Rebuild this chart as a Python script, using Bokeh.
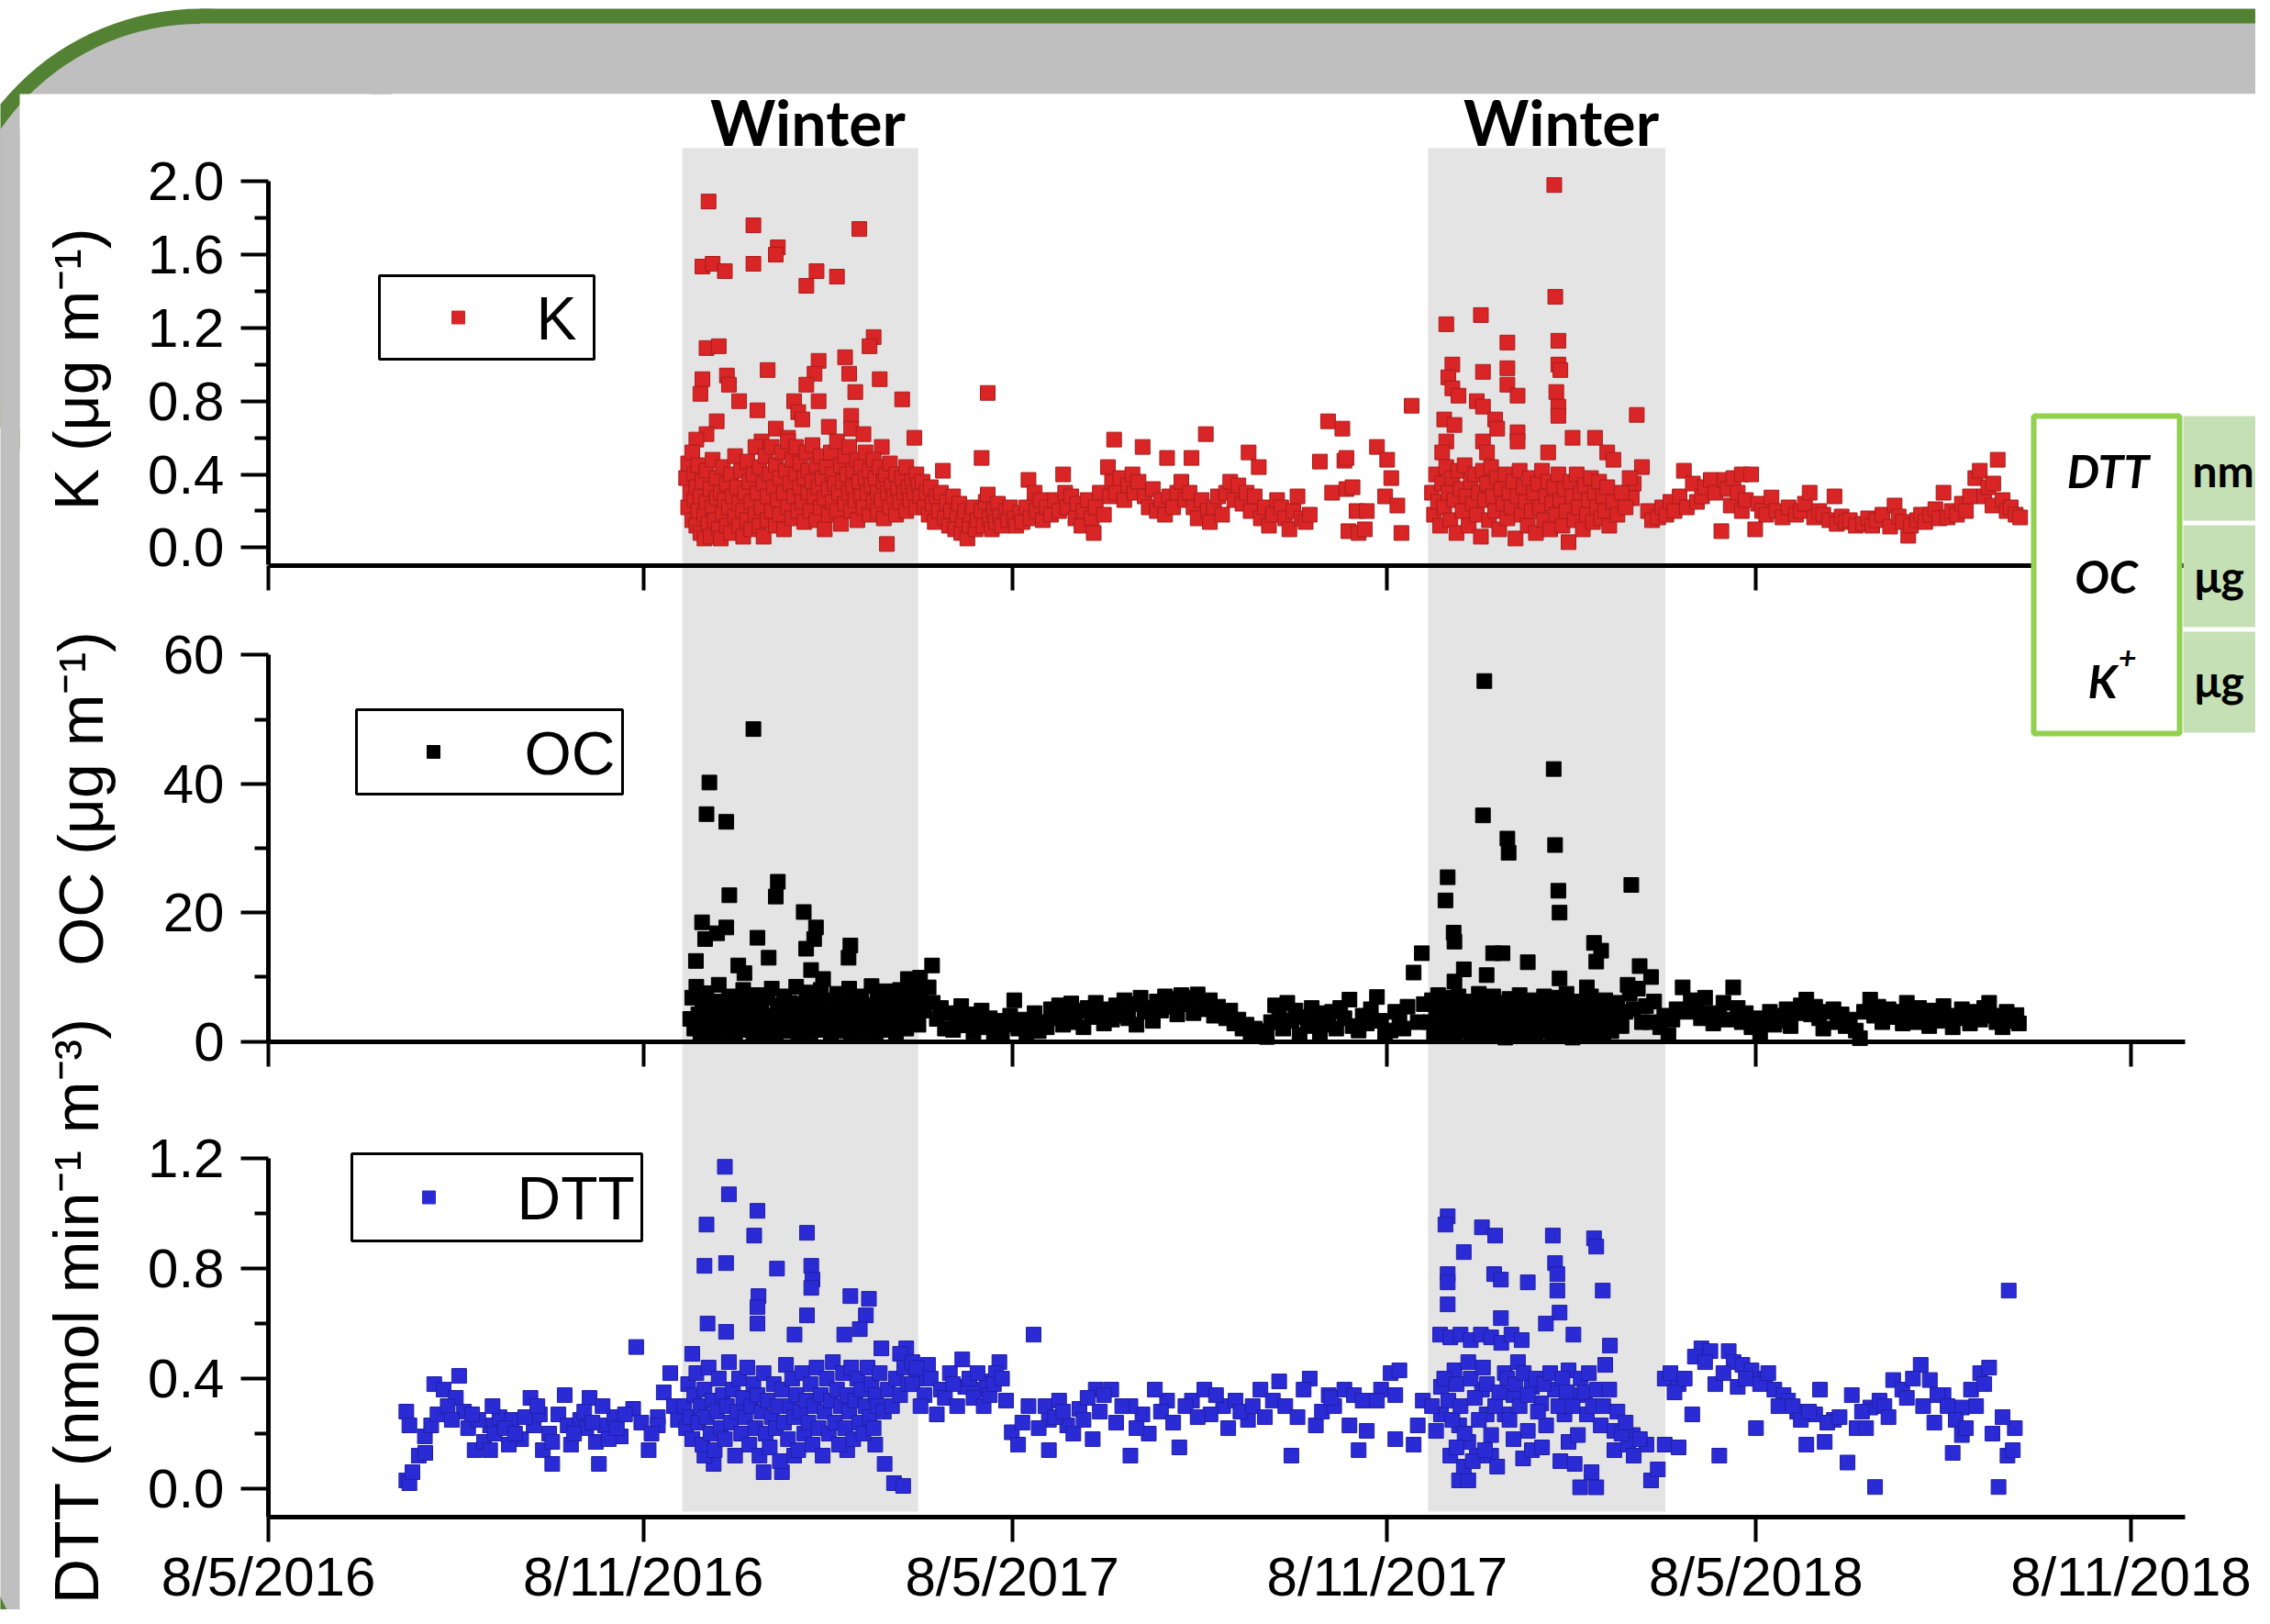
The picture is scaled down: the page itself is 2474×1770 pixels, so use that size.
import math
from bokeh.plotting import figure
from bokeh.models import Range1d, LinearAxis, FixedTicker, PrintfTickFormatter
from bokeh.core.properties import value
from bokeh.embed import file_html
from bokeh.resources import INLINE

# ---------------- data ----------------
# sample day = days since 8 May 2016 (8/5/2016, day/month/year)
START_DATE = "2016-05-08"

K_DATA = [
    # winter 2016/17 high values
    (216, 1.89), (238, 1.76), (290, 1.74), (250, 1.64), (249, 1.60), (213, 1.535), (218, 1.55), (224, 1.51),
    (238, 1.55), (269, 1.51), (264, 1.43), (279, 1.48), (297, 1.15), (295, 1.10), (215, 1.09), (221, 1.10),
    (213, 0.92), (212, 0.84), (225, 0.94), (226, 0.89), (245, 0.97), (270, 1.02), (268, 0.95), (264, 0.89),
    (283, 1.04), (285, 0.95), (288, 0.85), (300, 0.92), (311, 0.81), (231, 0.80), (240, 0.75), (249, 0.65),
    (258, 0.80), (260, 0.74), (270, 0.80), (286, 0.72), (286, 0.65), (317, 0.60), (220, 0.69), (215, 0.62),
    (210, 0.59), (262, 0.70), (275, 0.66), (292, 0.62), (301, 0.55), (255, 0.60), (242, 0.58), (303.5, 0.02),
    # winter 2016/17 bulk
    (205, 0.38), (206, 0.22), (206, 0.46), (207, 0.30), (208, 0.15), (208, 0.52), (209, 0.26), (209, 0.40),
    (210, 0.12), (210, 0.33), (211, 0.20), (211, 0.45), (212, 0.28), (212, 0.08), (213, 0.36), (214, 0.18),
    (214, 0.05), (215, 0.42), (215, 0.25), (216, 0.13), (217, 0.32), (217, 0.06), (218, 0.22), (218, 0.48),
    (219, 0.15), (220, 0.38), (220, 0.27), (221, 0.10), (222, 0.30), (222, 0.05), (223, 0.44), (223, 0.19),
    (224, 0.26), (225, 0.12), (225, 0.35), (226, 0.22), (227, 0.40), (227, 0.08), (228, 0.28), (229, 0.17),
    (229, 0.50), (230, 0.33), (231, 0.12), (231, 0.24), (232, 0.42), (233, 0.20), (233, 0.06), (234, 0.30),
    (235, 0.15), (235, 0.47), (236, 0.36), (237, 0.25), (237, 0.10), (238, 0.40), (239, 0.18), (239, 0.55),
    (240, 0.30), (241, 0.12), (241, 0.44), (242, 0.22), (243, 0.35), (243, 0.06), (244, 0.50), (245, 0.28),
    (245, 0.15), (246, 0.40), (247, 0.20), (247, 0.55), (248, 0.33), (249, 0.12), (249, 0.45), (250, 0.26),
    (251, 0.38), (251, 0.18), (252, 0.52), (253, 0.30), (253, 0.10), (254, 0.42), (255, 0.22), (255, 0.58),
    (256, 0.35), (257, 0.16), (257, 0.48), (258, 0.28), (259, 0.40), (259, 0.55), (260, 0.20), (261, 0.33),
    (261, 0.46), (262, 0.25), (263, 0.38), (263, 0.14), (264, 0.52), (265, 0.30), (265, 0.42), (266, 0.20),
    (267, 0.36), (267, 0.56), (268, 0.28), (269, 0.45), (269, 0.15), (270, 0.33), (271, 0.50), (271, 0.22),
    (272, 0.38), (273, 0.10), (273, 0.27), (274, 0.44), (275, 0.32), (275, 0.18), (276, 0.52), (277, 0.25),
    (277, 0.40), (278, 0.35), (279, 0.58), (279, 0.20), (280, 0.30), (281, 0.45), (281, 0.13), (282, 0.36),
    (283, 0.24), (283, 0.50), (284, 0.40), (285, 0.30), (285, 0.55), (286, 0.20), (287, 0.42), (287, 0.33),
    (288, 0.26), (289, 0.48), (289, 0.15), (290, 0.36), (291, 0.28), (291, 0.44), (292, 0.22), (293, 0.38),
    (293, 0.52), (294, 0.30), (295, 0.18), (295, 0.42), (296, 0.34), (297, 0.25), (297, 0.48), (298, 0.38),
    (299, 0.20), (299, 0.30), (300, 0.44), (301, 0.26), (302, 0.36), (302, 0.16), (303, 0.40), (304, 0.30),
    (305, 0.22), (305, 0.46), (306, 0.34), (307, 0.28), (308, 0.40), (308, 0.18), (309, 0.32), (310, 0.25),
    (311, 0.38), (312, 0.30), (313, 0.20), (313, 0.44), (314, 0.33), (315, 0.26), (316, 0.36), (317, 0.30),
    (318, 0.22), (318, 0.40), (319, 0.34),
    # 2017 warm season
    (320, 0.28), (321, 0.36), (322, 0.22), (323, 0.30), (324, 0.18), (325, 0.33), (326, 0.24), (327, 0.14),
    (328, 0.28), (329, 0.20), (330, 0.30), (331, 0.42), (332, 0.16), (333, 0.25), (334, 0.12), (335, 0.20),
    (336, 0.28), (337, 0.10), (338, 0.18), (339, 0.24), (340, 0.08), (341, 0.15), (342, 0.20), (343, 0.05),
    (344, 0.12), (345, 0.18), (346, 0.22), (347, 0.10), (348, 0.15), (350, 0.49), (350, 0.20), (351, 0.12),
    (352, 0.25), (353, 0.29), (353, 0.845), (354, 0.16), (355, 0.10), (356, 0.20), (357, 0.14), (358, 0.24),
    (359, 0.17), (360, 0.12), (362, 0.20), (363, 0.15), (364, 0.22), (366, 0.16), (367, 0.12), (369, 0.19),
    (370, 0.14), (372, 0.22), (373, 0.37), (374, 0.16), (376, 0.30), (377, 0.20), (379, 0.26), (380, 0.15),
    (382, 0.22), (384, 0.18), (386, 0.26), (388, 0.20), (390, 0.40), (391, 0.30), (392, 0.22), (394, 0.28),
    (396, 0.16), (397, 0.24), (399, 0.12), (400, 0.20), (402, 0.26), (404, 0.16), (405, 0.08), (406, 0.22),
    (408, 0.30), (410, 0.18), (412, 0.44), (413, 0.28), (414, 0.36), (415, 0.59), (416, 0.30), (418, 0.38),
    (420, 0.26), (422, 0.34), (424, 0.40), (425, 0.30), (427, 0.36), (429, 0.55), (430, 0.28), (432, 0.22),
    (434, 0.32), (436, 0.20), (438, 0.26), (440, 0.18), (441, 0.49), (442, 0.28), (444, 0.22), (446, 0.30),
    (448, 0.36), (450, 0.26), (452, 0.30), (453, 0.49), (454, 0.22), (456, 0.16), (458, 0.26), (460, 0.62),
    (461, 0.20), (462, 0.14), (464, 0.22), (466, 0.28), (468, 0.18), (470, 0.30), (472, 0.36), (474, 0.26),
    (476, 0.34), (478, 0.24), (480, 0.30), (481, 0.52), (482, 0.20), (484, 0.28), (486, 0.44), (487, 0.16),
    (489, 0.22), (491, 0.12), (493, 0.18), (495, 0.26), (497, 0.22), (499, 0.16), (501, 0.10), (503, 0.20),
    (505, 0.28), (507, 0.16), (509, 0.14), (511, 0.18), (516, 0.47), (520, 0.69), (522, 0.30), (527, 0.65),
    (528, 0.475), (529, 0.49), (529, 0.32), (530, 0.09), (532, 0.33), (534, 0.20), (535, 0.08), (538, 0.10),
    (539, 0.20), (544, 0.55), (548, 0.28), (549, 0.48), (551, 0.38), (554, 0.23), (556, 0.08), (561, 0.775),
    # winter 2017/18 high values
    (631, 1.98), (631.5, 1.37), (578, 1.22), (595, 1.27), (608, 1.12), (581, 1.00), (596, 0.96), (608, 0.98),
    (608, 0.89), (613, 0.83), (633, 1.13), (633, 1.00), (634, 0.97), (632, 0.85), (633, 0.77), (633, 0.72),
    (579, 0.93), (581, 0.87), (584, 0.83), (593, 0.80), (596, 0.77), (577, 0.70), (582, 0.67), (602, 0.70),
    (603, 0.65), (613, 0.63), (613, 0.58), (671.5, 0.725), (578, 0.58), (576, 0.52), (596, 0.58), (598, 0.52),
    (628, 0.52), (640, 0.60), (651, 0.60), (657, 0.52), (660, 0.48), (674, 0.44), (670, 0.35), (669, 0.27),
    # winter 2017/18 bulk
    (571, 0.30), (572, 0.18), (573, 0.40), (574, 0.25), (575, 0.12), (576, 0.35), (577, 0.22), (578, 0.44),
    (579, 0.30), (580, 0.15), (581, 0.38), (582, 0.26), (583, 0.08), (584, 0.42), (585, 0.32), (586, 0.20),
    (587, 0.45), (588, 0.28), (589, 0.12), (590, 0.36), (591, 0.24), (592, 0.40), (593, 0.18), (594, 0.30),
    (595, 0.06), (596, 0.42), (597, 0.26), (598, 0.35), (599, 0.15), (600, 0.44), (601, 0.28), (602, 0.20),
    (603, 0.38), (604, 0.10), (605, 0.32), (606, 0.24), (607, 0.40), (608, 0.16), (609, 0.30), (610, 0.22),
    (611, 0.36), (612, 0.05), (613, 0.28), (614, 0.42), (615, 0.18), (616, 0.33), (617, 0.25), (618, 0.12),
    (619, 0.38), (620, 0.20), (621, 0.30), (622, 0.08), (623, 0.35), (624, 0.22), (625, 0.42), (626, 0.15),
    (627, 0.28), (628, 0.36), (629, 0.10), (630, 0.24), (631, 0.33), (632, 0.18), (633, 0.40), (634, 0.26),
    (635, 0.12), (636, 0.32), (637, 0.20), (638, 0.03), (639, 0.36), (640, 0.28), (641, 0.15), (642, 0.40),
    (643, 0.22), (644, 0.30), (645, 0.10), (646, 0.34), (647, 0.18), (648, 0.26), (649, 0.38), (650, 0.14),
    (651, 0.30), (652, 0.22), (653, 0.36), (654, 0.16), (655, 0.28), (656, 0.20), (657, 0.33), (658, 0.12),
    (660, 0.25), (662, 0.18), (664, 0.30), (666, 0.22), (668, 0.38),
    # 2018 warm season
    (677, 0.20), (679, 0.15), (682, 0.165), (684, 0.22), (686, 0.18), (688, 0.25), (690, 0.20), (692.5, 0.28),
    (694.6, 0.42), (696, 0.22), (699, 0.35), (701, 0.25), (703.5, 0.28), (705, 0.33), (707.8, 0.37), (710, 0.30),
    (713, 0.09), (714.5, 0.37), (716, 0.32), (717.6, 0.23), (718.9, 0.38), (721, 0.30), (723, 0.40), (723, 0.20),
    (725, 0.26), (727.6, 0.40), (729.6, 0.10), (731, 0.24), (733, 0.20), (735, 0.18), (737.6, 0.274), (740, 0.20),
    (743, 0.165), (746, 0.22), (749.6, 0.18), (752, 0.20), (754, 0.24), (756.3, 0.30), (758.5, 0.165), (761, 0.20),
    (763, 0.18), (766, 0.15), (768.5, 0.28), (769.6, 0.13), (772, 0.17), (774, 0.14), (776, 0.15), (779, 0.12),
    (782.6, 0.13), (785, 0.16), (787, 0.12), (789, 0.15), (792, 0.18), (795.8, 0.115), (798, 0.23), (800, 0.17),
    (802, 0.14), (804.7, 0.065), (806, 0.12), (809, 0.15), (811, 0.18), (813, 0.14), (815.6, 0.18), (818, 0.21),
    (820, 0.16), (822, 0.30), (824, 0.165), (826, 0.20), (828.6, 0.18), (831, 0.24), (833, 0.20), (835, 0.28),
    (837.6, 0.38), (839.8, 0.42), (842, 0.28), (844, 0.33), (846.4, 0.35), (846, 0.23), (848.6, 0.48), (851, 0.26),
    (853, 0.20), (855, 0.22), (857.4, 0.18), (859.6, 0.165),
]

OC_DATA = [
    # winter 2016/17 high values
    (238, 48.5), (216.4, 40.2), (215, 35.3), (224.7, 34.1), (226.2, 22.7), (250, 24.8), (249, 22.5), (212.8, 18.5),
    (224.7, 17.7), (214.3, 15.9), (220.2, 16.8), (240, 16.1), (245.5, 13.0), (262.7, 20.1), (268.7, 17.7),
    (267.8, 15.9), (263.9, 14.4), (285.6, 14.9), (284.7, 13.0), (209.8, 12.5), (230.6, 11.8), (233.6, 10.6),
    (266.3, 11.1), (272.2, 9.7), (325.7, 11.8), (319.8, 9.9), (313.8, 9.7),
    # winter 2016/17 bulk
    (207, 3.5), (208, 6.8), (209, 2.0), (210, 8.5), (211, 4.2), (212, 1.2), (213, 5.8), (214, 3.0), (215, 7.5),
    (216, 2.2), (217, 4.8), (218, 1.0), (219, 6.2), (220, 3.4), (221, 8.8), (222, 2.0), (223, 5.0), (224, 1.5),
    (225, 3.8), (226, 7.0), (227, 2.5), (228, 5.5), (229, 1.2), (230, 4.0), (231, 6.5), (232, 2.8), (233, 8.0),
    (234, 1.8), (235, 4.5), (236, 3.0), (237, 6.0), (238, 1.0), (239, 3.6), (240, 7.2), (241, 2.2), (242, 5.2),
    (243, 1.4), (244, 4.0), (245, 6.8), (246, 2.6), (247, 8.2), (248, 3.2), (249, 1.2), (250, 5.6), (251, 2.4),
    (252, 4.4), (253, 7.0), (254, 1.6), (255, 3.8), (256, 6.0), (257, 2.0), (258, 4.8), (259, 8.5), (260, 1.0),
    (261, 3.2), (262, 5.8), (263, 2.4), (264, 7.6), (265, 4.2), (266, 1.5), (267, 6.2), (268, 3.0), (269, 5.0),
    (270, 1.8), (271, 8.0), (272, 3.6), (273, 2.2), (274, 6.4), (275, 4.0), (276, 1.2), (277, 5.4), (278, 2.8),
    (279, 7.4), (280, 3.4), (281, 1.6), (282, 5.8), (283, 2.6), (284, 4.6), (285, 8.2), (286, 1.0), (287, 3.8),
    (288, 6.0), (289, 2.2), (290, 4.8), (291, 7.0), (292, 1.5), (293, 3.4), (294, 5.6), (295, 2.0), (296, 8.6),
    (297, 4.2), (298, 1.2), (299, 6.4), (300, 3.0), (301, 5.0), (302, 1.8), (303, 7.8), (304, 3.6), (305, 2.4),
    (306, 6.6), (307, 4.4), (308, 1.4), (309, 5.8), (310, 8.0), (311, 3.2), (312, 6.2), (313, 2.0), (314, 4.6),
    (315, 7.4), (316, 3.0), (317, 8.8), (318, 5.2), (319, 2.6), (320, 7.0), (322, 4.8), (324, 8.4),
    # 2017 warm season
    (326, 6.0), (328, 3.5), (330, 5.2), (332, 2.0), (334, 4.4), (336, 1.8), (338, 3.8), (340, 5.5), (342, 2.5),
    (344, 4.2), (346, 1.5), (348, 3.0), (350, 4.8), (352, 2.2), (354, 3.6), (356, 1.2), (358, 3.2), (360, 0.8),
    (362, 2.6), (364, 4.0), (366, 6.4), (368, 2.0), (370, 3.4), (372, 1.0), (374, 2.8), (376, 4.4), (378, 1.6),
    (380, 3.0), (382, 2.2), (384, 5.0), (386, 3.6), (388, 5.6), (390, 2.6), (392, 4.2), (394, 5.9), (396, 3.0),
    (398, 4.8), (400, 2.2), (402, 5.2), (404, 3.8), (406, 6.0), (408, 4.4), (410, 2.8), (412, 5.0), (414, 3.4),
    (416, 5.6), (418, 4.0), (420, 6.4), (422, 3.6), (424, 5.8), (426, 2.6), (428, 6.8), (430, 4.6), (432, 5.2),
    (434, 3.2), (436, 6.2), (438, 4.8), (440, 7.0), (442, 5.4), (444, 6.6), (446, 4.2), (448, 7.2), (450, 5.8),
    (452, 6.8), (454, 4.4), (456, 7.3), (458, 6.0), (460, 5.0), (462, 6.4), (464, 4.0), (466, 5.4), (468, 4.4),
    (470, 3.6), (472, 4.8), (474, 2.8), (476, 3.4), (478, 2.0), (480, 2.6), (482, 1.4), (484, 2.0), (486, 0.8),
    (488, 1.6), (490, 0.7), (492, 3.0), (494, 5.6), (496, 4.2), (498, 2.0), (500, 6.0), (502, 3.2), (504, 4.8),
    (506, 1.0), (508, 3.8), (510, 2.4), (512, 5.2), (514, 3.0), (516, 1.4), (518, 4.4), (520, 2.6), (522, 4.6),
    (524, 2.0), (526, 5.2), (528, 3.6), (530.5, 6.5), (532, 2.4), (535, 1.7), (537, 4.0), (539, 2.8), (541, 5.0),
    (544, 6.9), (546, 3.2), (548, 1.2), (550.7, 1.7), (553, 4.6), (555, 3.6), (557, 2.0), (559, 5.4), (562, 10.7),
    (564, 3.0), (566, 13.7), (567, 5.8),
    # winter 2017/18 high values
    (596.7, 55.96), (630.7, 42.3), (596, 35.1), (608, 31.5), (608.6, 29.3), (631.4, 30.5), (578.7, 25.5),
    (577.6, 21.9), (633, 23.4), (633.6, 20.0), (668.8, 24.3), (581.6, 16.9), (582, 15.5), (601, 13.7),
    (605.6, 13.7), (618, 12.3), (650.5, 15.3), (654, 14.1), (651.6, 12.4), (672.9, 11.7), (678.5, 10.0),
    (586.6, 11.2), (582, 9.3), (597.8, 10.3), (633.6, 9.8), (647, 8.4), (667, 8.8),
    # winter 2017/18 bulk
    (570, 3.0), (571, 6.4), (572, 1.2), (573, 4.4), (574, 7.2), (575, 2.0), (576, 5.0), (577, 1.0), (578, 3.6),
    (579, 6.8), (580, 2.4), (581, 4.8), (582, 0.8), (583, 3.2), (584, 7.0), (585, 5.4), (586, 1.6), (587, 4.0),
    (588, 2.6), (589, 6.2), (590, 1.2), (591, 3.8), (592, 5.6), (593, 2.0), (594, 7.4), (595, 4.2), (596, 1.0),
    (597, 3.0), (598, 5.8), (599, 2.2), (600, 4.6), (601, 7.0), (602, 1.4), (603, 3.4), (604, 6.0), (605, 2.8),
    (606, 4.8), (607, 0.6), (608, 3.6), (609, 6.6), (610, 2.0), (611, 5.2), (612, 1.2), (613, 4.0), (614, 7.2),
    (615, 2.6), (616, 5.4), (617, 1.0), (618, 3.2), (619, 6.4), (620, 2.2), (621, 4.4), (622, 0.8), (623, 3.6),
    (624, 5.8), (625, 1.6), (626, 7.0), (627, 4.2), (628, 2.4), (629, 5.0), (630, 1.0), (631, 3.8), (632, 6.8),
    (633, 2.0), (634, 4.6), (635, 1.2), (636, 3.0), (637, 7.4), (638, 5.2), (639, 2.6), (640, 0.6), (641, 4.0),
    (642, 6.2), (643, 1.8), (644, 3.4), (645, 5.6), (646, 0.8), (647, 2.8), (648, 4.8), (649, 7.0), (650, 1.4),
    (651, 3.6), (652, 5.8), (653, 2.2), (654, 4.4), (655, 1.0), (656, 6.4), (657, 3.0), (658, 5.0), (659, 1.6),
    (660, 3.8), (662, 6.0), (664, 2.4), (666, 4.6), (668, 7.4), (670, 5.0), (672, 8.2), (674, 3.0),
    # 2018 warm season
    (676, 5.5), (678, 3.0), (680, 6.2), (683, 2.2), (685, 4.0), (687, 1.0), (689, 3.4), (691, 5.0), (694, 8.4),
    (696, 4.6), (698, 6.4), (700.9, 5.5), (703, 3.6), (705, 6.8), (707, 4.4), (709, 2.8), (712, 4.1), (714, 6.0),
    (716, 3.4), (718.8, 8.4), (721, 5.2), (723, 3.0), (725, 4.4), (727.8, 2.2), (730, 3.6), (732, 1.4), (734, 3.0),
    (736.8, 4.6), (739, 2.6), (741, 4.0), (743, 3.2), (745, 5.0), (747, 2.4), (750, 4.4), (752, 5.6), (754.7, 6.5),
    (757, 4.2), (759, 5.4), (761, 3.6), (763, 2.0), (765, 4.6), (768, 5.0), (770, 3.0), (772, 4.2), (774, 2.4),
    (776, 3.4), (779, 1.7), (781, 0.5), (783, 4.6), (786, 6.5), (788, 4.0), (790, 5.4), (792, 3.0), (795, 5.0),
    (797, 3.8), (800, 4.6), (802, 2.8), (804, 6.0), (806, 4.2), (808, 3.0), (810, 5.2), (813, 4.1), (815, 2.4),
    (817, 4.8), (819, 3.2), (822, 5.5), (824, 4.0), (826.5, 2.2), (829, 3.6), (831, 5.0), (833, 4.1), (835, 2.8),
    (838, 4.6), (840, 3.4), (842, 5.2), (844.4, 6.0), (846, 4.0), (848, 3.0), (851, 2.2), (853, 4.6), (855, 3.2),
    (857.8, 4.1), (859, 2.8),
]

DTT_DATA = [
    # 2016 warm season
    (67.7, 0.03), (69.2, 0.02), (70.7, 0.06), (73.8, 0.12), (67.7, 0.28), (69.2, 0.23), (76.8, 0.19), (79.9, 0.23),
    (81.4, 0.38), (86, 0.36), (93.6, 0.41), (92, 0.33), (98, 0.22), (101.2, 0.14), (105.8, 0.17), (108.8, 0.23),
    (113.4, 0.26), (119.4, 0.25), (124, 0.18), (128.6, 0.33), (130.2, 0.23), (134.7, 0.14), (137.8, 0.20),
    (139.3, 0.09), (142.3, 0.27), (145.4, 0.34), (146.9, 0.23), (153, 0.25), (157.6, 0.33), (160.7, 0.17),
    (162.2, 0.09), (165.2, 0.23), (169.8, 0.26), (172.9, 0.19), (179, 0.29), (186.6, 0.14), (191.1, 0.26),
    (197.2, 0.42), (180.5, 0.515), (194, 0.35), (191.1, 0.23), (133.2, 0.27), (118, 0.16), (156, 0.22),
    (148.5, 0.16), (139.3, 0.17), (108.8, 0.14), (83, 0.27), (88, 0.30), (96, 0.28), (103, 0.25), (111, 0.20),
    (116, 0.22), (121, 0.20), (126, 0.26), (132, 0.30), (150, 0.20), (155, 0.28), (159, 0.24), (164, 0.30),
    (167, 0.18), (171, 0.22), (175, 0.27), (183, 0.24), (188, 0.20), (199, 0.30), (201, 0.25), (77, 0.13),
    (90, 0.25), (100, 0.27), (110, 0.30),
    # winter 2016/17 high and low values
    (224, 1.17), (226, 1.07), (215, 0.96), (240, 1.01), (238.4, 0.92), (264.3, 0.93), (214, 0.81), (224.6, 0.82),
    (249.6, 0.80), (266.4, 0.81), (267, 0.76), (266.4, 0.73), (240.5, 0.70), (240, 0.66), (264.3, 0.63),
    (285.6, 0.70), (294.7, 0.69), (293.2, 0.63), (215.5, 0.60), (224.6, 0.57), (240, 0.60), (258.2, 0.56),
    (282.6, 0.56), (290.2, 0.58), (300.8, 0.51), (313, 0.51), (310, 0.49), (208, 0.49), (297.8, 0.16),
    (302.4, 0.09), (307, 0.02), (311.5, 0.01), (243, 0.06), (252, 0.06), (218.5, 0.09), (214, 0.12), (258, 0.12),
    (284, 0.14),
    # winter 2016/17 bulk
    (204, 0.30), (205, 0.22), (206, 0.38), (207, 0.26), (208, 0.18), (209, 0.34), (210, 0.42), (211, 0.24),
    (212, 0.30), (213, 0.16), (214, 0.36), (215, 0.26), (216, 0.44), (217, 0.20), (218, 0.32), (219, 0.14),
    (220, 0.28), (221, 0.40), (222, 0.22), (223, 0.34), (224, 0.18), (225, 0.30), (226, 0.46), (227, 0.24),
    (228, 0.36), (229, 0.12), (230, 0.28), (231, 0.40), (232, 0.20), (233, 0.33), (234, 0.26), (235, 0.44),
    (236, 0.16), (237, 0.30), (238, 0.38), (239, 0.22), (240, 0.34), (241, 0.12), (242, 0.28), (243, 0.42),
    (244, 0.20), (245, 0.32), (246, 0.15), (247, 0.26), (248, 0.38), (249, 0.22), (250, 0.30), (251, 0.10),
    (252, 0.36), (253, 0.24), (254, 0.45), (255, 0.18), (256, 0.30), (257, 0.40), (258, 0.26), (259, 0.34),
    (260, 0.14), (261, 0.28), (262, 0.42), (263, 0.20), (264, 0.32), (265, 0.24), (266, 0.38), (267, 0.16),
    (268, 0.30), (269, 0.44), (270, 0.22), (271, 0.34), (272, 0.12), (273, 0.28), (274, 0.40), (275, 0.20),
    (276, 0.32), (277, 0.46), (278, 0.24), (279, 0.36), (280, 0.16), (281, 0.30), (282, 0.42), (283, 0.22),
    (284, 0.34), (285, 0.28), (286, 0.44), (287, 0.18), (288, 0.32), (289, 0.40), (290, 0.24), (291, 0.36),
    (292, 0.20), (293, 0.30), (294, 0.44), (295, 0.26), (296, 0.38), (297, 0.22), (298, 0.34), (299, 0.30),
    (300, 0.42), (302, 0.28), (304, 0.36), (306, 0.30), (308, 0.40), (310, 0.34), (312, 0.44), (314, 0.38),
    (316, 0.46), (318, 0.40),
    # 2017 warm season
    (316, 0.38), (323.7, 0.45), (322, 0.34), (328, 0.27), (334.4, 0.42), (340.5, 0.47), (342, 0.37), (349.6, 0.36),
    (352.6, 0.39), (358.7, 0.46), (357, 0.42), (375.5, 0.56), (364.8, 0.205), (367.9, 0.16), (383, 0.14),
    (381.3, 0.30), (383, 0.25), (398, 0.29), (404.5, 0.18), (406, 0.36), (413.6, 0.36), (423, 0.12), (428.9, 0.27),
    (432, 0.20), (441, 0.32), (447, 0.15), (453.2, 0.32), (459.3, 0.36), (468.5, 0.30), (474.6, 0.32),
    (480.7, 0.25), (486.8, 0.36), (492.9, 0.32), (496, 0.39), (502, 0.12), (511, 0.40), (514, 0.23), (520.3, 0.34),
    (435, 0.36), (423, 0.30), (462.3, 0.27), (392, 0.23), (318, 0.44), (320, 0.30), (325, 0.40), (330, 0.36),
    (332, 0.33), (336, 0.38), (338, 0.30), (344, 0.40), (346, 0.33), (348, 0.42), (351, 0.30), (354, 0.34),
    (356, 0.38), (360, 0.40), (362, 0.32), (370, 0.24), (373, 0.30), (378, 0.22), (386, 0.26), (388, 0.32),
    (390, 0.28), (395, 0.20), (400, 0.25), (402, 0.33), (408, 0.28), (410, 0.34), (416, 0.24), (419, 0.30),
    (426, 0.22), (438, 0.28), (444, 0.24), (450, 0.30), (456, 0.26), (465, 0.34), (471, 0.22), (477, 0.28),
    (483, 0.30), (489, 0.26), (499, 0.30), (505, 0.26), (508, 0.36), (517, 0.28), (523, 0.30),
    (521.5, 0.33), (528, 0.36), (532.7, 0.34), (537, 0.32), (546, 0.36), (550.7, 0.42), (555, 0.43), (553, 0.34),
    (544, 0.32), (530.5, 0.23), (539, 0.21), (535, 0.14), (553, 0.18), (562, 0.16), (564, 0.23), (566.5, 0.32),
    # winter 2017/18
    (578.7, 0.99), (577.6, 0.96), (595.5, 0.95), (602, 0.92), (630.3, 0.92), (650.5, 0.91), (651.6, 0.88),
    (586.6, 0.86), (578.7, 0.78), (578.7, 0.75), (601.5, 0.78), (604.8, 0.76), (618, 0.75), (631.4, 0.82),
    (632.5, 0.78), (632.5, 0.72), (654.8, 0.72), (578.7, 0.67), (604.8, 0.62), (633.6, 0.64), (626.9, 0.60),
    (575, 0.56), (580, 0.55), (585, 0.56), (590, 0.54), (595, 0.56), (600, 0.55), (605, 0.53), (610, 0.56),
    (615, 0.54), (640.4, 0.56), (658.3, 0.52),
    (573, 0.21), (580, 0.12), (584.3, 0.03), (588.8, 0.03), (593, 0.12), (600, 0.12), (615.7, 0.11), (620, 0.14),
    (638, 0.17), (643.7, 0.005), (649.3, 0.06), (651.6, 0.005), (660.5, 0.14), (669.5, 0.195), (676.2, 0.16),
    (678.5, 0.03), (681.8, 0.07), (685.2, 0.16), (692, 0.15),
    (575.4, 0.37), (582, 0.43), (588.8, 0.46), (595.5, 0.36), (606.7, 0.42), (611, 0.34), (613.2, 0.46),
    (620, 0.37), (624.6, 0.31), (631.4, 0.36), (638, 0.43), (642.6, 0.34), (647, 0.27), (653.8, 0.23), (656, 0.45),
    (597.8, 0.27), (606.7, 0.27), (600, 0.195), (618, 0.21), (627, 0.23), (584.3, 0.23), (575.4, 0.27),
    (588.8, 0.17), (586.6, 0.08), (636, 0.27), (642.6, 0.195), (660.5, 0.21), (667.3, 0.16),
    (571, 0.30), (577, 0.40), (579, 0.32), (581, 0.25), (583, 0.38), (585, 0.30), (587, 0.20), (590, 0.40),
    (592, 0.33), (594, 0.25), (596, 0.44), (598, 0.38), (602, 0.30), (604, 0.35), (608, 0.40), (609, 0.25),
    (612, 0.38), (614, 0.30), (616, 0.42), (618, 0.34), (622, 0.40), (623, 0.28), (626, 0.38), (629, 0.42),
    (633, 0.30), (635, 0.40), (637, 0.35), (640, 0.30), (644, 0.40), (646, 0.35), (648, 0.42), (650, 0.30),
    (652, 0.36), (655, 0.30), (658, 0.36), (662, 0.28), (664, 0.20), (666, 0.24), (670, 0.12), (673, 0.18),
    (583, 0.15), (591, 0.10), (597, 0.14), (603, 0.08), (611, 0.18), (625, 0.15), (634, 0.10), (641, 0.09),
    # 2018 warm season
    (685.2, 0.40), (692, 0.38), (698.7, 0.27), (703.2, 0.51), (707.6, 0.50), (710, 0.38), (712, 0.12),
    (716.6, 0.50), (719, 0.46), (723.3, 0.45), (727.8, 0.43), (721, 0.37), (730, 0.22), (734.5, 0.40), (739, 0.36),
    (743.5, 0.34), (745.7, 0.32), (750.2, 0.28), (754.7, 0.16), (759, 0.27), (761.4, 0.36), (763.7, 0.17),
    (768.2, 0.25), (774.9, 0.095), (777, 0.34), (779.4, 0.22), (786.1, 0.295), (788.4, 0.006), (790.6, 0.32),
    (797.3, 0.395), (801.8, 0.36), (810.8, 0.45), (815.3, 0.395), (817.5, 0.24), (822, 0.34), (826.5, 0.13),
    (831, 0.295), (831, 0.195), (835.5, 0.36), (840, 0.42), (844.4, 0.44), (849, 0.006), (853.4, 0.12),
    (854, 0.72), (857, 0.22), (856, 0.14),
    (688, 0.42), (690, 0.35), (695, 0.40), (700, 0.48), (705, 0.46), (714, 0.42), (725, 0.40), (732, 0.38),
    (736, 0.42), (741, 0.30), (748, 0.30), (752, 0.25), (756, 0.28), (765, 0.24), (771, 0.26), (782, 0.28),
    (784, 0.22), (793, 0.30), (795, 0.26), (804, 0.33), (807, 0.40), (812, 0.30), (819, 0.34), (824, 0.30),
    (828, 0.25), (833, 0.22), (838, 0.30), (842, 0.38), (846, 0.20), (851, 0.26),
]

TICK_DAYS = [0, 184, 365, 549, 730, 914]
TICK_LABELS = ["8/5/2016", "8/11/2016", "8/5/2017", "8/11/2017", "8/5/2018", "8/11/2018"]
AXIS_END_DAY = 940.6
WINTER_START = [203.1, 569.0]
WINTER_END = [318.9, 685.5]
WINTER_TEXT = "Winter"
WINTER_TEXT_DAY = [264.7, 634.4]

K_TICKS, K_MINOR = [0.0, 0.4, 0.8, 1.2, 1.6, 2.0], [0.2, 0.6, 1.0, 1.4, 1.8]
OC_TICKS, OC_MINOR = [0, 20, 40, 60], [10, 30, 50]
DTT_TICKS, DTT_MINOR = [0.0, 0.4, 0.8, 1.2], [0.2, 0.6, 1.0]

K_TITLE = "K (μg m⁻¹)"
OC_TITLE = "OC (μg m⁻¹)"
DTT_TITLE = "DTT (nmol min⁻¹ m⁻³)"

TABLE_NAMES = ["DTT", "OC", "K"]
# the unit column is cropped at the picture's right edge; only its start is visible
TABLE_UNITS = ["nm", "μg", "μg"]

k_day, k_val = [list(t) for t in zip(*K_DATA)]
oc_day, oc_val = [list(t) for t in zip(*OC_DATA)]
dtt_day, dtt_val = [list(t) for t in zip(*DTT_DATA)]

# ---------------- layout (reference pixel coordinates) ----------------
W, H = 2458, 1754
LEFT, TOP = 0, 0
RIGHT, BOTTOM = LEFT + W, TOP + H
X_DAY0 = 292.0
PPD = (2322.0 - 292.0) / 914.0

def yr(y_zero, px_per_unit):
    return Range1d((y_zero - BOTTOM) / px_per_unit, (y_zero - TOP) / px_per_unit)

p = figure(width=W, height=H, output_backend="svg", toolbar_location=None,
           x_range=Range1d((LEFT - X_DAY0) / PPD, (RIGHT - X_DAY0) / PPD),
           y_range=Range1d(BOTTOM, TOP),
           x_axis_type=None, y_axis_type=None, min_border=0)
p.outline_line_color = None
p.background_fill_color = "white"
p.border_fill_color = "white"
p.extra_x_ranges = {"px": Range1d(LEFT, RIGHT)}
p.extra_y_ranges = {"k": yr(596.4, 199.6), "oc": yr(1134.6, 7.02), "dtt": yr(1622.0, 299.8)}

GREEN = "#548235"
GRAY = "#bfbfbf"
FONT = value("Liberation Sans")
CAL = value("Lato")

# ---------- frame decorations ----------
p.scatter(x=[218], y=[289.5], size=561, marker="circle", fill_color=GREEN, line_color=None,
          x_range_name="px", level="underlay")
p.scatter(x=[218], y=[289.5], size=528, marker="circle", fill_color=GRAY, line_color=None,
          x_range_name="px", level="underlay")
p.quad(left=[218], right=[2480], top=[9], bottom=[26], fill_color=GREEN, line_color=None,
       x_range_name="px", level="underlay")
p.quad(left=[218], right=[2480], top=[25], bottom=[102], fill_color=GRAY, line_color=None,
       x_range_name="px", level="underlay")
p.quad(left=[21], right=[2480], top=[102], bottom=[1780], fill_color="white", line_color=None,
       x_range_name="px", level="underlay")
p.quad(left=[-5], right=[21], top=[141], bottom=[1780], fill_color=GRAY, line_color=None,
       x_range_name="px", level="underlay")
p.patch(x=[-5, 6, 14, 24, -5], y=[1730, 1752, 1762, 1772, 1772], fill_color=GREEN, line_color=None,
        x_range_name="px", level="underlay")

# winter shading (data x, pixel y)
p.quad(left=WINTER_START, right=WINTER_END, top=[161, 161], bottom=[1647, 1647],
       fill_color="#e4e4e4", line_color=None, level="underlay")
p.text(x=WINTER_TEXT_DAY, y=[132, 132], text=[WINTER_TEXT] * 2,
       text_font=CAL, text_font_style="bold", text_font_size=value("68px"), text_color="black",
       text_align="center", text_baseline="alphabetic")

# ---------- data ----------
p.scatter(k_day, k_val, y_range_name="k", marker="square", size=16,
          fill_color="#d92525", line_color="#a91d1d", line_width=1)
p.scatter(oc_day, oc_val, y_range_name="oc", marker="square", size=16,
          fill_color="#000000", line_color="#000000", line_width=1)
p.scatter(dtt_day, dtt_val, y_range_name="dtt", marker="square", size=16,
          fill_color="#2b2bd6", line_color="#1f1fa6", line_width=1)

# ---------- axes ----------
def style(ax):
    ax.axis_line_width = 5
    ax.axis_line_color = "black"
    ax.major_tick_line_width = 4
    ax.minor_tick_line_width = 4
    ax.major_tick_in = 0
    ax.minor_tick_in = 0
    ax.major_label_text_font = "Liberation Sans"
    ax.major_label_text_font_size = "60px"
    ax.major_label_text_color = "black"

def y_axis(name, ticks, minor, bounds, fmt):
    ax = LinearAxis(y_range_name=name, fixed_location=0, bounds=bounds,
                    ticker=FixedTicker(ticks=ticks, minor_ticks=minor),
                    formatter=PrintfTickFormatter(format=fmt))
    style(ax)
    ax.major_tick_out = 30
    ax.minor_tick_out = 15
    ax.major_label_standoff = 18
    p.add_layout(ax, "left")

y_axis("k", K_TICKS, K_MINOR, (-0.095, 2.0), "%.1f")
y_axis("oc", OC_TICKS, OC_MINOR, (0, 60), "%d")
y_axis("dtt", DTT_TICKS, DTT_MINOR, (-0.105, 1.2), "%.1f")

# upper panels: date ticks without labels (drawn as unlabeled ticks)
for yloc in (616, 1135):
    ax = LinearAxis(fixed_location=yloc, bounds=(0, AXIS_END_DAY),
                    ticker=FixedTicker(ticks=[], minor_ticks=TICK_DAYS))
    style(ax)
    ax.major_tick_out = 27
    ax.minor_tick_out = 27
    p.add_layout(ax, "below")

# bottom panel: labelled date axis
ax = LinearAxis(fixed_location=1653, bounds=(0, AXIS_END_DAY),
                ticker=FixedTicker(ticks=TICK_DAYS, minor_ticks=[]),
                major_label_overrides=dict(zip(TICK_DAYS, TICK_LABELS)))
style(ax)
ax.major_tick_out = 27
ax.minor_tick_out = 0
ax.major_label_standoff = 4
p.add_layout(ax, "below")

# axis titles
p.text(x=[82, 87, 82], y=[402, 870, 1428], text=[K_TITLE, OC_TITLE, DTT_TITLE], angle=math.pi / 2,
       text_font=FONT, text_font_size=value("68px"), text_color="black",
       text_align="center", text_baseline="middle", x_range_name="px")

# ---------- legends ----------
LEG = [  # left, right, top, bottom, marker x, text x, label, colour
    (413, 647, 300, 391, 499, 584, "K", "#d92525"),
    (388, 678, 773, 865, 472, 571, "OC", "#000000"),
    (383, 699, 1257, 1352, 467, 563, "DTT", "#2b2bd6"),
]
for l, r, t, b, mx, tx, lab, col in LEG:
    p.quad(left=[l], right=[r], top=[t], bottom=[b], fill_color="white", line_color="black",
           line_width=3, x_range_name="px", level="overlay")
    p.scatter(x=[mx], y=[(t + b) / 2], marker="square", size=14, fill_color=col, line_color=col,
              x_range_name="px", level="overlay")
    p.text(x=[tx], y=[(t + b) / 2 + 1], text=[lab], text_font=FONT, text_font_size=value("66px"),
           text_color="black", text_align="left", text_baseline="middle", x_range_name="px",
           level="overlay")

# ---------- unit table ----------
LIGHT_GREEN = "#92d050"
p.quad(left=[2379, 2379, 2379], right=[2480, 2480, 2480], top=[453, 572, 688], bottom=[567, 683, 798],
       fill_color="#c5e0b4", line_color=None, x_range_name="px", level="overlay")
p.quad(left=[2216], right=[2375], top=[453], bottom=[799], fill_color="white", line_color=LIGHT_GREEN,
       line_width=6, x_range_name="px", level="overlay")
p.text(x=[2297, 2295, 2291], y=[512, 627, 741], text=TABLE_NAMES, text_font=CAL,
       text_font_style="bold italic", text_font_size=value("50px"), text_color="black",
       text_align="center", text_baseline="alphabetic", x_range_name="px", level="overlay")
p.text(x=[2318], y=[716], text=["+"], text_font=CAL, text_font_style="bold italic",
       text_font_size=value("34px"), text_color="black", text_align="center",
       text_baseline="alphabetic", x_range_name="px", level="overlay")
p.text(x=[2389, 2391, 2391], y=[512, 627, 741], text=TABLE_UNITS, text_font=CAL,
       text_font_style="bold", text_font_size=value("48px"), text_color="black",
       text_align="left", text_baseline="alphabetic", x_range_name="px", level="overlay")

open("out.html", "w").write(file_html(p, INLINE))
